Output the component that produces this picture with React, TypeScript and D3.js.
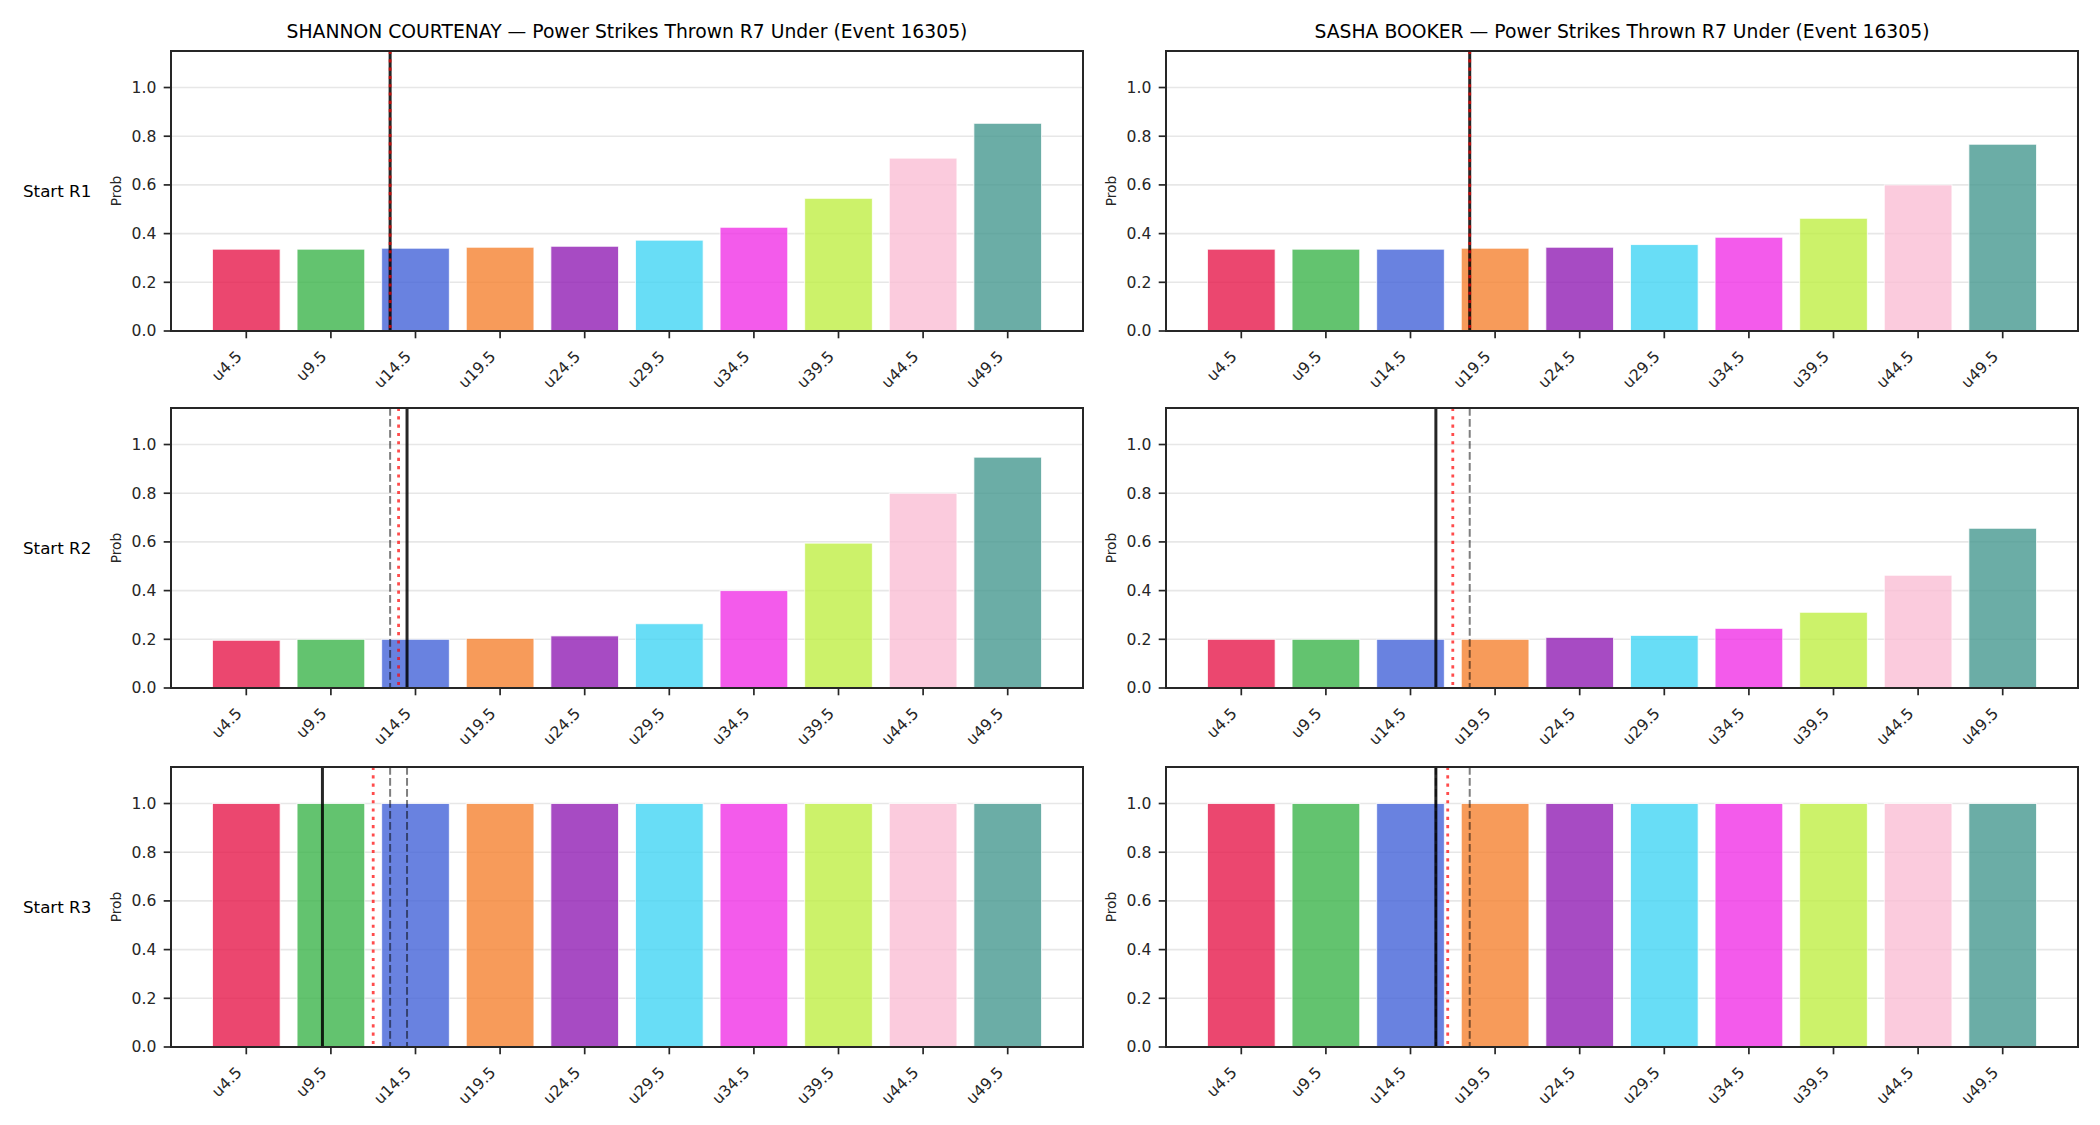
import React from "react";
import * as d3 from "d3";

const thresholdLabels = ["u4.5", "u9.5", "u14.5", "u19.5", "u24.5", "u29.5", "u34.5", "u39.5", "u44.5", "u49.5"];
const thresholdValues = [4.5, 9.5, 14.5, 19.5, 24.5, 29.5, 34.5, 39.5, 44.5, 49.5];
const barColors = ["#e6194B", "#3cb44b", "#4363d8", "#f58231", "#911eb4", "#42d4f4", "#f032e6", "#bfef45", "#fabed4", "#469990"];
const yTicks = [0, 0.2, 0.4, 0.6, 0.8, 1.0];
const rowLabels = ["Start R1", "Start R2", "Start R3"];
const fighters = ["SHANNON COURTENAY", "SASHA BOOKER"];
const titleSuffix = " — Power Strikes Thrown R7 Under (Event 16305)";

const shannonR1 = [0.336, 0.336, 0.340, 0.344, 0.348, 0.373, 0.426, 0.545, 0.710, 0.853];
const shannonR2 = [0.196, 0.200, 0.200, 0.204, 0.214, 0.264, 0.400, 0.595, 0.800, 0.948];
const shannonR3 = [1, 1, 1, 1, 1, 1, 1, 1, 1, 1];
const sashaR1 = [0.336, 0.336, 0.336, 0.340, 0.344, 0.355, 0.385, 0.463, 0.600, 0.767];
const sashaR2 = [0.200, 0.200, 0.200, 0.200, 0.208, 0.216, 0.245, 0.311, 0.463, 0.656];
const sashaR3 = [1, 1, 1, 1, 1, 1, 1, 1, 1, 1];

const shannonSolid = [13, 14, 9];
const shannonDotted = [13, 13.5, 12];
const shannonDashed = [[], [13], [13, 14]];
const sashaSolid = [18, 16, 16];
const sashaDotted = [18, 17, 16.7];
const sashaDashed = [[], [18], [18, 16]];

const seriesByFighter = [
  [shannonR1, shannonR2, shannonR3],
  [sashaR1, sashaR2, sashaR3],
];
const solidByFighter = [shannonSolid, sashaSolid];
const dottedByFighter = [shannonDotted, sashaDotted];
const dashedByFighter = [shannonDashed, sashaDashed];

const W = 2100;
const H = 1125;
const colLeft = [171, 1166];
const colWidth = 912;
const rowTop = [51, 408, 767];
const rowHeight = 280;
const FONT = "DejaVu Sans, sans-serif";
const DARK = "#262626";

function Panel({ col, row }: { col: number; row: number }) {
  const left = colLeft[col];
  const right = left + colWidth;
  const top = rowTop[row];
  const bottom = top + rowHeight;
  const values = seriesByFighter[col][row];
  const x = d3.scaleLinear().domain([-0.89, 9.89]).range([left, right]);
  const y = d3.scaleLinear().domain([0, 1.15]).range([bottom, top]);
  const valToIdx = d3.scaleLinear().domain([thresholdValues[0], thresholdValues[9]]).range([0, 9]);
  const lx = (v: number) => x(valToIdx(v));
  const halfW = 0.4;
  return (
    <g>
      {yTicks.map((t) => (
        <line key={"g" + t} x1={left} x2={right} y1={y(t)} y2={y(t)} stroke="#b0b0b0" strokeOpacity={0.3} strokeWidth={1.6} />
      ))}
      {values.map((v, i) => (
        <rect
          key={"b" + i}
          x={x(i - halfW)}
          width={x(i + halfW) - x(i - halfW)}
          y={y(v)}
          height={y(0) - y(v)}
          fill={barColors[i]}
          fillOpacity={0.8}
          stroke="white"
          strokeOpacity={0.8}
          strokeWidth={1}
        />
      ))}
      {dashedByFighter[col][row].map((v, i) => (
        <line key={"d" + i} x1={lx(v)} x2={lx(v)} y1={top} y2={bottom} stroke="black" strokeOpacity={0.5} strokeWidth={2} strokeDasharray="7.7 3.3" />
      ))}
      <line x1={lx(solidByFighter[col][row])} x2={lx(solidByFighter[col][row])} y1={top} y2={bottom} stroke="black" strokeOpacity={0.85} strokeWidth={3} />
      <line x1={lx(dottedByFighter[col][row])} x2={lx(dottedByFighter[col][row])} y1={top} y2={bottom} stroke="red" strokeOpacity={0.7} strokeWidth={2.8} strokeDasharray="3.1 5.2" />
      <rect x={left} y={top} width={colWidth} height={rowHeight} fill="none" stroke={DARK} strokeWidth={2} />
      {yTicks.map((t) => (
        <g key={"yt" + t}>
          <line x1={left - 7.3} x2={left} y1={y(t)} y2={y(t)} stroke={DARK} strokeWidth={1.7} />
          <text x={left - 14.6} y={y(t)} dy="0.35em" textAnchor="end" fontSize={15.6} fontFamily={FONT} fill={DARK}>
            {t.toFixed(1)}
          </text>
        </g>
      ))}
      {thresholdLabels.map((lab, i) => (
        <g key={"xt" + i}>
          <line x1={x(i)} x2={x(i)} y1={bottom} y2={bottom + 7.3} stroke={DARK} strokeWidth={1.7} />
          <text
            transform={`translate(${x(i) - 3.5},${bottom + 26.5}) rotate(-45)`}
            textAnchor="end"
            fontSize={15.6}
            fontFamily={FONT}
            fill={DARK}
          >
            {lab}
          </text>
        </g>
      ))}
      <text
        transform={`translate(${left - 50},${(top + bottom) / 2}) rotate(-90)`}
        textAnchor="middle"
        fontSize={13.8}
        fontFamily={FONT}
        fill={DARK}
      >
        Prob
      </text>
      {row === 0 && (
        <text x={(left + right) / 2} y={38} textAnchor="middle" fontSize={18.75} fontFamily={FONT} fill="black">
          {fighters[col] + titleSuffix}
        </text>
      )}
      {col === 0 && (
        <text x={23} y={(top + bottom) / 2 + 6} textAnchor="start" fontSize={16.7} fontFamily={FONT} fill="black">
          {rowLabels[row]}
        </text>
      )}
    </g>
  );
}

export default function App() {
  const panels: { col: number; row: number }[] = [];
  for (let r = 0; r < 3; r++) for (let c = 0; c < 2; c++) panels.push({ col: c, row: r });
  return (
    <div style={{ position: "absolute", left: 0, top: 0, width: W, height: H, background: "white" }}>
      <svg width={W} height={H} viewBox={`0 0 ${W} ${H}`} style={{ display: "block" }}>
        <rect x={0} y={0} width={W} height={H} fill="white" />
        {panels.map((p) => (
          <Panel key={`${p.col}-${p.row}`} col={p.col} row={p.row} />
        ))}
      </svg>
    </div>
  );
}
